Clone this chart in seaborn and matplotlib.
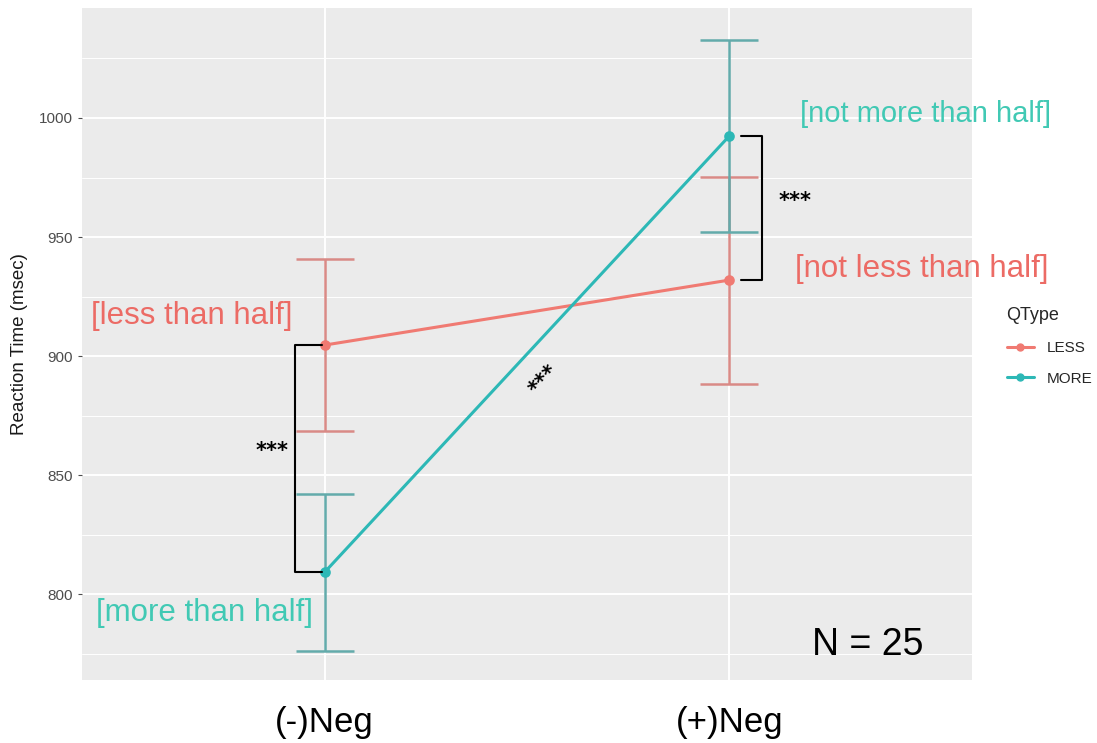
# Reaction time by negation and question type

import numpy as np
import pandas as pd
import matplotlib
matplotlib.use("Agg")
import matplotlib.pyplot as plt
import seaborn as sns
from matplotlib.lines import Line2D

# ----------------------------------------------------------
# data
# ----------------------------------------------------------
conditions = ["(-)Neg", "(+)Neg"]
qtypes = ["LESS", "MORE"]
less_mean = [904.6, 931.9]
less_err = [36.2, 43.5]
more_mean = [809.2, 992.4]
more_err = [33.0, 40.3]

labels_less = ["[less than half]", "[not less than half]"]
labels_more = ["[more than half]", "[not more than half]"]
n_text = "N = 25"
stars = "***"

df = pd.DataFrame({
    "Neg": conditions * 2,
    "QType": ["LESS"] * 2 + ["MORE"] * 2,
    "RT": less_mean + more_mean,
    "err": less_err + more_err,
})

# ----------------------------------------------------------
# style
# ----------------------------------------------------------
sns.set_theme(style="darkgrid")
plt.rcParams["font.family"] = ["Liberation Sans", "DejaVu Sans"]

line_col = {"LESS": "#F07A72", "MORE": "#2DB8B6"}
bar_col = {"LESS": "#D98A86", "MORE": "#63ABAB"}
txt_red = "#EC6B65"
txt_teal = "#41C9B4"

fig = plt.figure(figsize=(10.97, 7.43), dpi=100)
ax = fig.add_axes([0.0747, 0.0848, 0.8113, 0.9044])
ax.set_facecolor("#EBEBEB")

sns.pointplot(
    data=df, x="Neg", y="RT", hue="QType", order=conditions,
    hue_order=qtypes, palette=line_col, errorbar=None,
    markers="o", markersize=6, linewidth=2.2, ax=ax, legend=False,
)

xpos = {c: i for i, c in enumerate(conditions)}
for q in qtypes:
    sub = df[df["QType"] == q]
    ax.errorbar(
        sub["Neg"].map(xpos), sub["RT"], yerr=sub["err"], fmt="none",
        ecolor=bar_col[q], elinewidth=1.8, capsize=21, capthick=1.8,
        zorder=1,
    )

ax.set_xlim(-0.6, 1.6)
ax.set_ylim(763.9, 1046.2)
ax.set_yticks([800, 850, 900, 950, 1000])
ax.set_yticks([775, 825, 875, 925, 975, 1025], minor=True)
ax.grid(which="major", color="white", linewidth=1.4)
ax.grid(which="minor", axis="y", color="white", linewidth=0.7)
ax.set_axisbelow(True)
for s in ax.spines.values():
    s.set_visible(False)

ax.set_xlabel("")
ax.set_ylabel("Reaction Time (msec)", fontsize=13.5, color="#1A1A1A", labelpad=8)
ax.tick_params(axis="y", labelsize=11, labelcolor="#4D4D4D", length=3,
               color="#4D4D4D", width=0.8, left=True)
ax.tick_params(axis="x", length=0, pad=19)
ax.set_xticks(range(len(conditions)))
ax.set_xticklabels(conditions, fontsize=25, color="black")

# ----------------------------------------------------------
# annotations
# ----------------------------------------------------------
ax.text(-0.079, 916.8, labels_less[0], color=txt_red, fontsize=22.5,
        ha="right", va="center")
ax.text(1.162, 936.6, labels_less[1], color=txt_red, fontsize=22.5,
        ha="left", va="center")
ax.text(-0.03, 792.0, labels_more[0], color=txt_teal, fontsize=22.5,
        ha="right", va="center")
ax.text(1.174, 1001.7, labels_more[1], color=txt_teal, fontsize=21,
        ha="left", va="center")
ax.text(1.204, 778.6, n_text, color="black", fontsize=27, ha="left",
        va="center")

# significance brackets between the group means
def bracket(x_bar, x_tip, y0, y1):
    ax.plot([x_tip, x_bar, x_bar, x_tip], [y0, y0, y1, y1],
            color="black", linewidth=1.5, zorder=4)

bracket(-0.074, -0.007, less_mean[0], more_mean[0])
bracket(1.082, 1.028, more_mean[1], less_mean[1])

star_kw = dict(fontsize=15, fontweight="bold", ha="center", va="center",
               color="black", family="DejaVu Sans")
ax.text(-0.13, 860.0, stars, **star_kw)
ax.text(1.162, 965.0, stars, **star_kw)
ax.text(0.542, 890.0, stars, rotation=47, **star_kw)

# ----------------------------------------------------------
# legend
# ----------------------------------------------------------
handles = [
    Line2D([0], [0], color=line_col[q], marker="o", markersize=5,
           linewidth=2.2)
    for q in qtypes
]
fig.legend(handles, qtypes, title="QType", loc="upper left",
           bbox_to_anchor=(0.905, 0.605), frameon=False, fontsize=11,
           title_fontsize=13, handlelength=1.8, labelspacing=1.1,
           alignment="left")

fig.savefig("out.png", dpi=100, facecolor="white")
